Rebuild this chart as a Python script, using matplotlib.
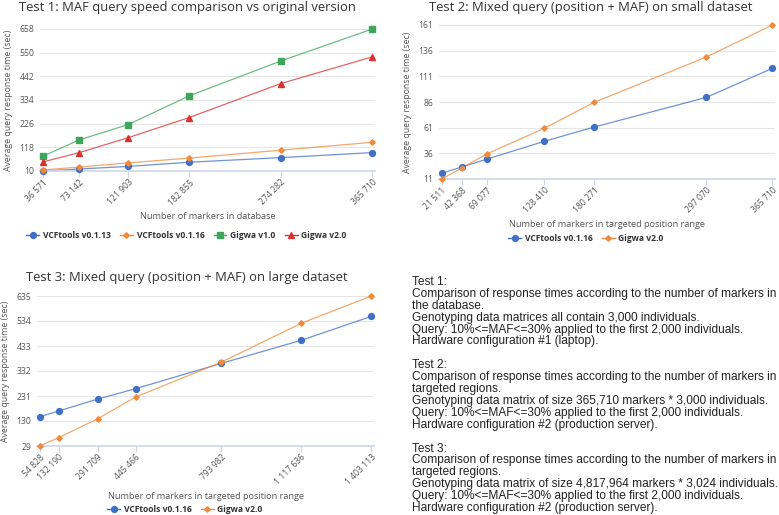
import matplotlib
matplotlib.use("Agg")
import matplotlib.pyplot as plt
from matplotlib.ticker import FixedLocator, FixedFormatter

# ---- datos ----
# Test 1
t1_x = [36571, 73142, 121903, 182855, 274282, 365710]
t1_vcf13 = [10, 19, 31, 50, 71, 94]
t1_vcf16 = [15, 28, 47, 69, 105, 141]
t1_gig1 = [77, 152, 222, 353, 512, 658]
t1_gig2 = [51, 94, 162, 254, 409, 531]
t1_yticks = [10, 118, 226, 334, 442, 550, 658]

# Test 2
t2_x = [21511, 42368, 69077, 128410, 180271, 297070, 365710]
t2_vcf16 = [16.5, 22.7, 30.5, 47.7, 61.6, 90.5, 118.8]
t2_gig2 = [11, 21.7, 35.7, 60.4, 85.7, 129.8, 161]
t2_yticks = [11, 36, 61, 86, 111, 136, 161]

# Test 3
t3_x = [54828, 132190, 291709, 445466, 793982, 1117636, 1403113]
t3_vcf16 = [147.5, 170.4, 218.9, 260.6, 363, 455.9, 552.8]
t3_gig2 = [29, 62.7, 139.4, 227, 368, 524.6, 635]
t3_yticks = [29, 130, 231, 332, 433, 534, 635]

notes = [
    "Test 1:",
    "Comparison of response times according to the number of markers in",
    "the database.",
    "Genotyping data matrices all contain 3,000 individuals.",
    "Query: 10%<=MAF<=30% applied to the first 2,000 individuals.",
    "Hardware configuration #1 (laptop).",
    "",
    "Test 2:",
    "Comparison of response times according to the number of markers in",
    "targeted regions.",
    "Genotyping data matrix of size 365,710 markers * 3,000 individuals.",
    "Query: 10%<=MAF<=30% applied to the first 2,000 individuals.",
    "Hardware configuration #2 (production server).",
    "",
    "Test 3:",
    "Comparison of response times according to the number of markers in",
    "targeted regions.",
    "Genotyping data matrix of size 4,817,964 markers * 3,024 individuals.",
    "Query: 10%<=MAF<=30% applied to the first 2,000 individuals.",
    "Hardware configuration #2 (production server).",
]

# ---- estilos: (color, marcador, tamano) por orden de serie ----
AZUL = ("#3f6fc6", "o", 4.2)
NARANJA = ("#f08a3c", "D", 2.8)
VERDE = ("#3ea55a", "s", 4.2)
ROJO = ("#d9312f", "^", 4.6)

plt.rcParams["font.family"] = ["Open Sans", "DejaVu Sans"]

W, H = 779, 515
fig = plt.figure(figsize=(W / 100, H / 100), dpi=100)


def caja(x0, y0, x1, y1):
    # pixeles -> coordenadas de figura
    return [x0 / W, 1 - y1 / H, (x1 - x0) / W, (y1 - y0) / H]


def fmt_num(v):
    return f"{v:,}".replace(",", " ")


def panel(rect, xs, series, yticks, xlabel, titulo, tit_x, tit_y, ley_y, ley_x):
    ax = fig.add_axes(caja(*rect))
    for nombre, ys, (color, marca, tam) in series:
        ax.plot(xs, ys, color=color, lw=0.9, alpha=0.75, zorder=2, clip_on=False)
        ax.plot(xs, ys, ls="none", marker=marca, ms=tam, color=color,
                zorder=3, clip_on=False, label=nombre)
    rango = xs[-1] - xs[0]
    ax.set_xlim(xs[0] - rango * 0.008, xs[-1] + rango * 0.008)
    ax.set_ylim(yticks[0], yticks[-1])
    ax.yaxis.set_major_locator(FixedLocator(yticks))
    ax.xaxis.set_major_locator(FixedLocator(xs))
    ax.xaxis.set_major_formatter(FixedFormatter([fmt_num(v) for v in xs]))
    ax.grid(axis="y", color="#e6e6e6", lw=0.8)
    ax.set_axisbelow(True)
    for s in ["top", "right", "left"]:
        ax.spines[s].set_visible(False)
    ax.spines["bottom"].set_color("#ccd6eb")
    ax.spines["bottom"].set_linewidth(1.2)
    ax.tick_params(axis="y", length=0, labelsize=6.2, labelcolor="#555555", pad=4)
    ax.tick_params(axis="x", length=4, color="#ccd6eb", labelsize=6.2,
                   labelcolor="#555555", pad=1)
    for lab in ax.get_xticklabels():
        lab.set_rotation(45)
        lab.set_ha("right")
        lab.set_rotation_mode("anchor")
    ax.set_xlabel(xlabel, fontsize=6.6, color="#555555", labelpad=4)
    ax.set_ylabel("Average query response time (sec)", fontsize=6.3, color="#555555",
                  labelpad=5)
    fig.text(tit_x / W, 1 - tit_y / H, titulo, fontsize=9.4, color="#333333",
             ha="center", va="center")
    ley = fig.legend(*ax.get_legend_handles_labels(), loc="center",
                     bbox_to_anchor=(ley_x / W, 1 - ley_y / H),
                     ncol=len(series), frameon=False, fontsize=6.1,
                     handlelength=1.5, columnspacing=1.1, handletextpad=0.45)
    for h in ley.legend_handles:
        h.set_linestyle("-")
        h.set_linewidth(1.0)
    for t in ley.get_texts():
        t.set_fontweight("bold")
        t.set_color("#333333")
    return ax


panel((40, 29, 375, 171), t1_x,
      [("VCFtools v0.1.13", t1_vcf13, AZUL), ("VCFtools v0.1.16", t1_vcf16, NARANJA),
       ("Gigwa v1.0", t1_gig1, VERDE), ("Gigwa v2.0", t1_gig2, ROJO)],
      t1_yticks, "Number of markers in database",
      "Test 1: MAF query speed comparison vs original version", 187, 7, 235, 186.5)

panel((439, 25, 775, 179), t2_x,
      [("VCFtools v0.1.16", t2_vcf16, AZUL), ("Gigwa v2.0", t2_gig2, NARANJA)],
      t2_yticks, "Number of markers in targeted position range",
      "Test 2: Mixed query (position + MAF) on small dataset", 591, 7, 238, 586)

panel((37, 296, 374, 446), t3_x,
      [("VCFtools v0.1.16", t3_vcf16, AZUL), ("Gigwa v2.0", t3_gig2, NARANJA)],
      t3_yticks, "Number of markers in targeted position range",
      "Test 3: Mixed query (position + MAF) on large dataset", 187, 277, 509, 185)

# bloque de texto a la derecha
y = 282
for linea in notes:
    fig.text(412 / W, 1 - y / H, linea, fontsize=8.55, family="Liberation Sans",
             color="#222222", ha="left", va="center")
    y += 11.9

fig.savefig("out.png", dpi=100)
